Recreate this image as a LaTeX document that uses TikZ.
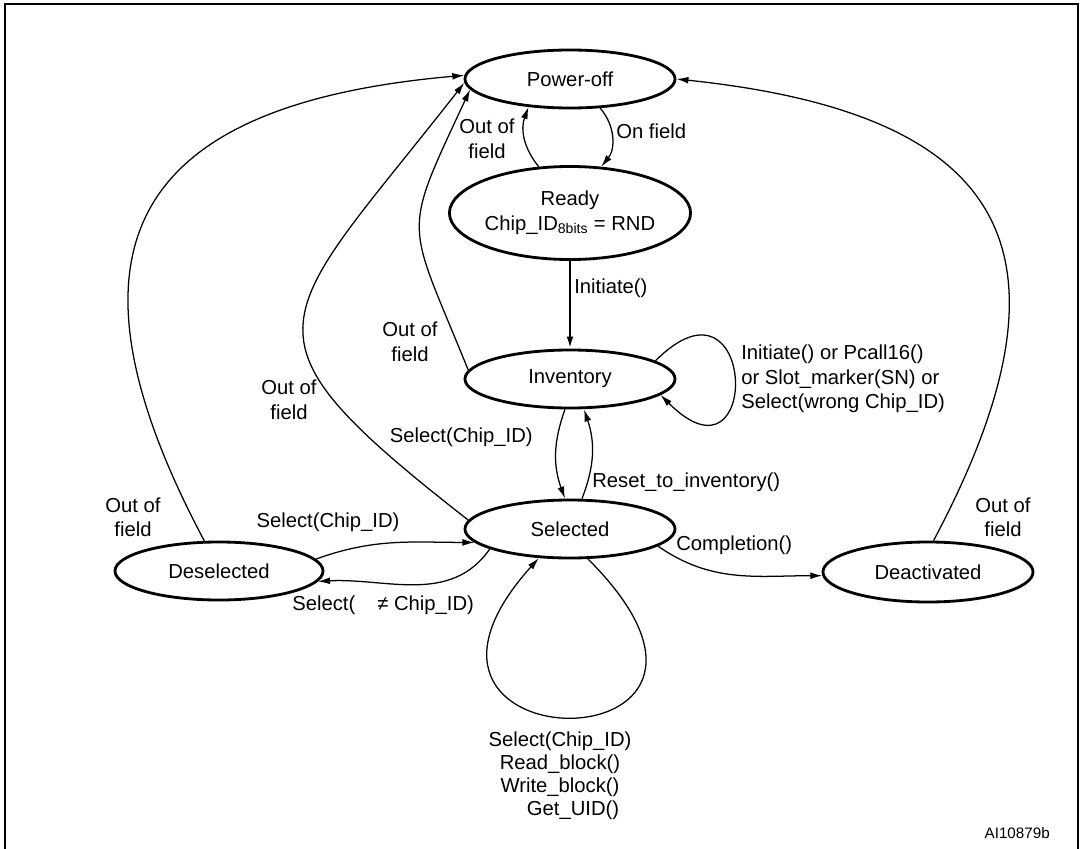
\documentclass[tikz,border=0pt]{standalone}
\usepackage{fontspec}
\setmainfont{Liberation Sans}
\usetikzlibrary{shapes.geometric, arrows.meta}

\begin{document}
\begin{tikzpicture}[x=0.025cm, y=0.025cm]
            \tikzstyle{state} = [ellipse, draw, line width=2pt, inner sep=0pt, minimum width=5.25cm, minimum height=1.45cm, align=center, font=\fontsize{14.4}{17.7}\selectfont]
            \tikzstyle{trans} = [line width=0.9pt, -{Latex[length=0.3cm, width=0.17cm]}]
            \tikzstyle{cond} = [inner sep=0pt, align=center, font=\fontsize{14.4}{17.4}\selectfont]
            \useasboundingbox (0, 0) rectangle (1080, -849);
            \draw[line width=2pt] (5, -849) -- (5, -4) -- (1078, -4) -- (1078, -849);
            % states
            \node[state] (poweroff) at (570, -79) {Power-off};
            \node[state, minimum height=2.325cm] (ready) at (570, -213) {Ready\\Chip\_ID\textsubscript{8bits} = RND};
            \node[state] (inventory) at (570, -379) {Inventory};
            \node[state] (selected) at (570, -529) {Selected};
            \node[state, minimum width=5.2cm] (deselected) at (219, -571) {Deselected};
            \node[state, minimum height=1.5cm] (deactivated) at (928, -572) {Deactivated};
            % transitions
            \draw[trans] (poweroff.-44) to[bend left=40] (ready.56);
            \draw[trans] (ready.124) to[bend left=30] (poweroff.-146);
            \draw[trans, line width=1.6pt] (ready.south) -- (inventory.north);
            \draw[trans] (inventory.12) to[out=45, in=-45, out distance=3.6cm, in distance=3.6cm] (inventory.-10);
            \draw[trans] ([xshift=-0.125cm]inventory.south) to[bend right=20] ([xshift=-0.125cm]selected.north);
            \draw[trans] ([xshift=0.3cm]selected.north) to[bend right=20] ([xshift=0.35cm]inventory.south);
            \draw[trans] (inventory.175) to[out=112, in=245, looseness=1.5] (poweroff.186);
            \draw[trans] (selected.175) to[out=142, in=232, looseness=1.8] (poweroff.182);
            \draw[trans] (deselected.116) to[out=118, in=185, looseness=1.6] (poweroff.178);
            \draw[trans] (deactivated.80) to[out=62, in=-6, looseness=1.6] (poweroff.east);
            \draw[trans] (deselected.7) to[out=20, in=180] (selected.188);
            \draw[trans] (selected.194) to[out=235, in=3] (deselected.-6);
            \draw[trans] (selected.-11) to[out=-35, in=180] (deactivated.182);
            \draw[trans] (selected.-59) to[out=-45, in=-132, out distance=7.5cm, in distance=7.1cm] (selected.-137);
            % conditions
            \node[cond, anchor=west] (onfield) at (616, -131) {On field};
            \node[cond] (outready) at (487, -139) {Out of\\field};
            \node[cond, anchor=west] (initiate) at (574, -288) {Initiate()};
            \node[cond, anchor=west, align=left] (invloop) at (741, -379) {Initiate() or Pcall16()\\or Slot\_marker(SN) or\\Select(wrong Chip\_ID)};
            \node[cond, anchor=east] (selinv) at (533, -437) {Select(Chip\_ID)};
            \node[cond, anchor=west] (reset) at (592, -482) {Reset\_to\_inventory()};
            \node[cond] (outinv) at (410, -342) {Out of\\field};
            \node[cond] (outsel) at (289, -400) {Out of\\field};
            \node[cond] (outdesel) at (133, -517) {Out of\\field};
            \node[cond] (outdeact) at (1003, -517) {Out of\\field};
            \node[cond] (seldesel) at (328, -522) {Select(Chip\_ID)};
            \node[cond, anchor=west] (selnot) at (292, -605) {Select(\hspace{0.55cm}≠ Chip\_ID)};
            \node[cond, anchor=west] (completion) at (676, -545) {Completion()};
            \node[cond, font=\fontsize{14.4}{16.3}\selectfont] (selloop) at (560, -776) {Select(Chip\_ID)\\Read\_block()\\Write\_block()\\\hspace*{0.65cm}Get\_UID()};
            \node[cond, anchor=east, font=\fontsize{10.8}{13}\selectfont] (figid) at (1050, -833) {AI10879b};
        \end{tikzpicture}
\end{document}
